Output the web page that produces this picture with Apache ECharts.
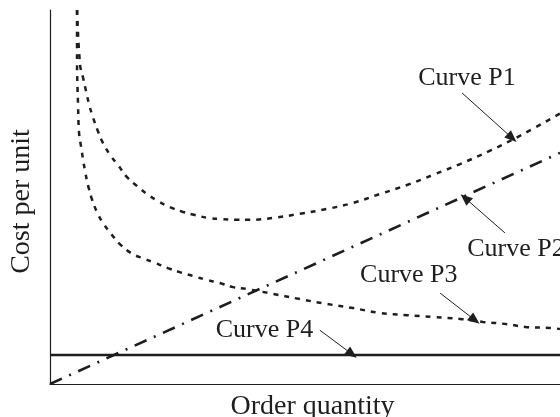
<!DOCTYPE html>
<html lang="en">
<head>
	<meta charset="UTF-8">
	<title>Cost per unit</title>
	<style>
		html, body { margin: 0; padding: 0; background: #fff; }
		#chart { width: 560px; height: 417px; }
	</style>
</head>
<body>
	<div id="chart"></div>
<script src="https://cdn.jsdelivr.net/npm/echarts@6/dist/echarts.min.js"></script>
<script>
    // order quantity runs 0..100, cost per unit 0..100 (no ticks shown)
    var curveP1 = [
        [5.3, 100], [5.9, 85.3], [6.5, 81.8], [7.1, 78.1], [7.7, 74.6], [8.4, 71.4],
        [9.4, 67.6], [10.4, 64.4], [11.8, 61.2], [13.3, 58.6], [15.1, 55.3], [17.1, 52.9],
        [19.0, 50.8], [21.2, 48.9], [23.5, 47.3], [26.1, 46.0], [28.4, 45.2], [31.0, 44.4],
        [33.7, 44.1], [36.3, 43.9], [39.2, 43.9], [43.7, 44.4], [49.0, 45.5], [54.3, 46.8],
        [59.4, 48.4], [64.7, 50.8], [70.0, 53.2], [75.1, 55.9], [80.4, 58.8], [86.3, 62.4],
        [92.2, 66.4], [100, 72.3]
    ];
    var curveP2 = [[0, 0], [100, 61.8]];
    var curveP3 = [
        [5.3, 100], [5.3, 86.6], [5.5, 74.6], [5.7, 67.1], [6.1, 63.4], [6.5, 59.9],
        [6.9, 56.7], [7.5, 52.9], [8.2, 49.5], [9.2, 46.0], [10.4, 43.0], [12.0, 40.1],
        [13.7, 37.4], [15.9, 35.0], [18.0, 33.7], [20.6, 32.4], [23.1, 31.0], [25.9, 29.7],
        [28.0, 28.9], [30.8, 27.8], [33.3, 27.0], [35.9, 25.9], [38.6, 25.4], [43.7, 24.1],
        [49.0, 22.7], [54.3, 21.4], [59.4, 20.3], [64.7, 19.0], [70.0, 18.4], [75.1, 17.9],
        [80.4, 17.4], [84.9, 16.6], [89.6, 16.0], [93.5, 15.2], [98.0, 15.0], [100, 14.7]
    ];
    var curveP4 = [[0, 7.75], [100, 7.75]];

    // annotation text (left, bottom) and arrows (from, to), in data units
    var labelNames = ['Curve P1', 'Curve P2', 'Curve P3', 'Curve P4'];
    var labelPos = [[72.2, 78.2], [81.8, 32.7], [60.8, 25.5], [32.5, 10.8]];
    var arrowFrom = [[80.8, 77.8], [89.2, 40.4], [76.5, 24.3], [52.9, 14.4]];
    var arrowTo = [[90.6, 65.8], [81.4, 49.7], [83.3, 17.1], [59.2, 8.0]];

    var ink = '#1e1e1e';
    var serif = '"Liberation Serif", "DejaVu Serif", serif';

    var myChart = echarts.init(document.getElementById('chart'));

    var arrows = [];
    for (var i = 0; i < arrowFrom.length; i++) {
        arrows.push([
            {coord: arrowFrom[i], symbol: 'none'},
            {coord: arrowTo[i], symbol: 'triangle', symbolSize: [10, 12]}
        ]);
    }

    var option = {
        animation: false,
        grid: {left: 50, right: 0, top: 10, bottom: 33, containLabel: false, outerBoundsMode: 'none'},
        xAxis: {
            type: 'value', min: 0, max: 100,
            name: 'Order quantity', nameLocation: 'middle', nameGap: 9,
            nameTextStyle: {fontFamily: serif, fontSize: 28, color: ink, verticalAlign: 'top', padding: [0, 0, 0, 15]},
            axisLine: {lineStyle: {color: ink, width: 1.2}},
            axisTick: {show: false}, axisLabel: {show: false}, splitLine: {show: false}
        },
        yAxis: {
            type: 'value', min: 0, max: 100,
            name: 'Cost per unit', nameLocation: 'middle', nameGap: 14,
            nameTextStyle: {fontFamily: serif, fontSize: 28, color: ink, padding: [0, 9, 0, 0]},
            axisLine: {show: true, lineStyle: {color: ink, width: 1.2}},
            axisTick: {show: false}, axisLabel: {show: false}, splitLine: {show: false}
        },
        series: [
            {
                name: 'Curve P1', type: 'line', data: curveP1, smooth: 0.4, showSymbol: false,
                lineStyle: {color: ink, width: 2.5, type: [5, 6]}
            },
            {
                name: 'Curve P2', type: 'line', data: curveP2, showSymbol: false,
                lineStyle: {color: ink, width: 2.6, type: [13, 8, 2, 8]}
            },
            {
                name: 'Curve P3', type: 'line', data: curveP3, smooth: 0.4, showSymbol: false,
                lineStyle: {color: ink, width: 2.5, type: [5, 6]}
            },
            {
                name: 'Curve P4', type: 'line', data: curveP4, showSymbol: false,
                lineStyle: {color: ink, width: 2.6},
                markLine: {
                    silent: true,
                    label: {show: false},
                    lineStyle: {color: ink, width: 1, type: 'solid'},
                    itemStyle: {color: ink},
                    data: arrows
                }
            }
        ]
    };
    myChart.setOption(option);

    // curve labels placed through the chart's own scales
    var texts = [];
    for (var j = 0; j < labelNames.length; j++) {
        var p = myChart.convertToPixel({gridIndex: 0}, labelPos[j]);
        texts.push({
            type: 'text', x: p[0], y: p[1],
            style: {
                text: labelNames[j], fill: ink, font: '26px ' + serif,
                textAlign: 'left', textVerticalAlign: 'bottom'
            }
        });
    }
    myChart.setOption({graphic: texts});
</script>
</body>
</html>
